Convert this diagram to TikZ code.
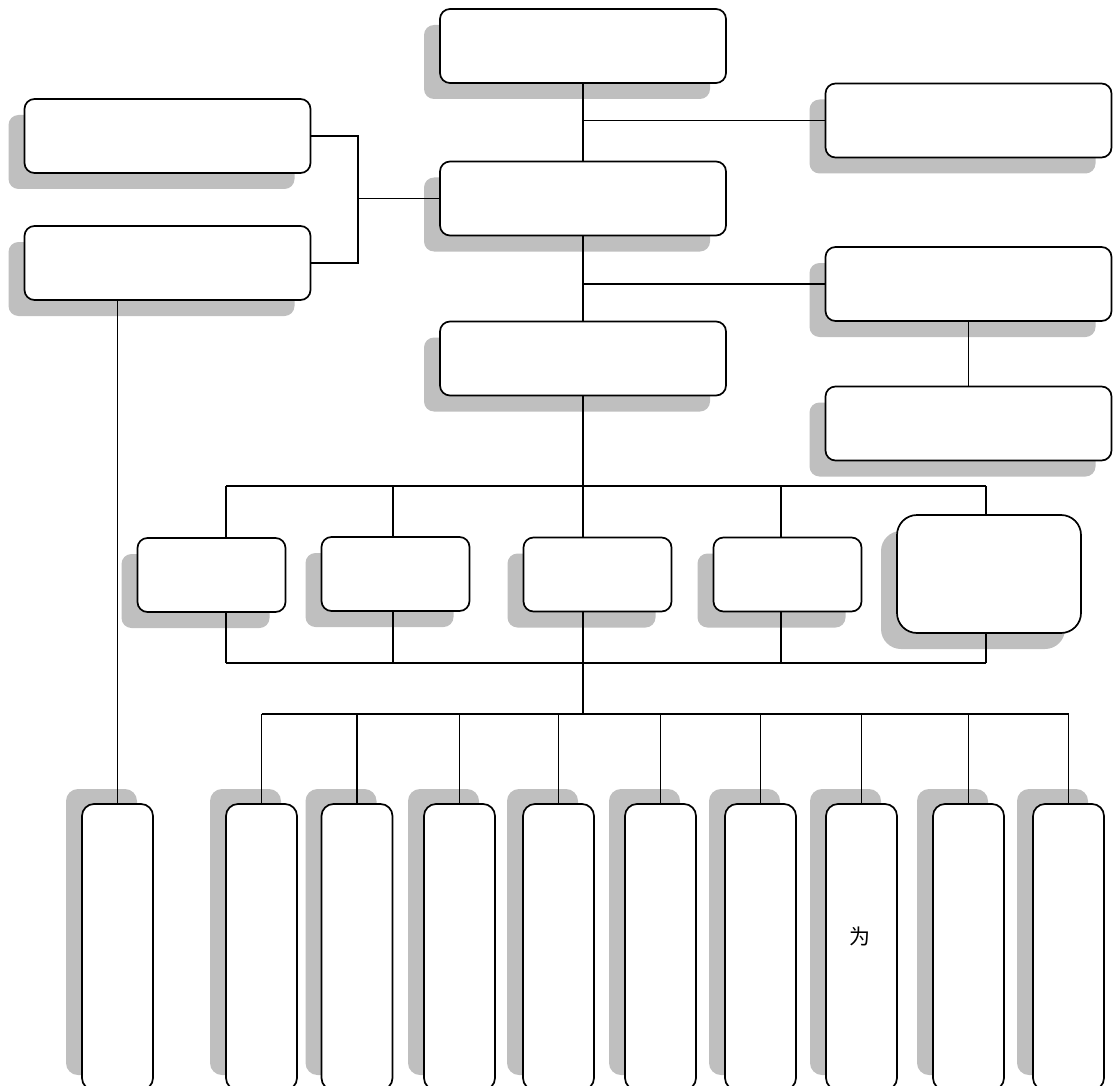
\documentclass[tikz,border=0pt]{standalone}
\usepackage{fontspec}
\newfontfamily\cjk{Noto Sans CJK SC}
\usetikzlibrary{shadows}
\definecolor{shadowgray}{HTML}{BFBFBF}
\tikzset{
  box/.style={draw=black, line width=1.7pt, fill=white, rounded corners=10pt, inner sep=0pt,
    general shadow={fill=shadowgray, draw=none, shadow xshift=-16pt, shadow yshift=-16pt}},
  tallbox/.style={draw=black, line width=1.7pt, fill=white, rounded corners=12pt, inner sep=0pt,
    minimum width=71pt, minimum height=286pt,
    general shadow={fill=shadowgray, draw=none, shadow xshift=-16pt, shadow yshift=15pt}},
  wide/.style={minimum width=286pt, minimum height=74pt},
  small/.style={minimum width=148pt, minimum height=74pt},
  link/.style={draw=black, line width=1.5pt}
}
\begin{document}
\begin{tikzpicture}[x=1pt,y=-1pt]
\useasboundingbox (0,0) rectangle (1113,1086);
\clip (0,0) rectangle (1113,1086);
% top boxes
\node[box,wide] (A) at (583,46) {};
\node[box,wide] (B) at (968.5,120.5) {};
\node[box,wide] (C1) at (167.5,136) {};
\node[box,wide] (C2) at (167.5,263) {};
\node[box,wide] (D) at (583,198.5) {};
\node[box,wide] (E) at (968.5,284) {};
\node[box,wide] (F) at (583,358.5) {};
\node[box,wide] (G) at (968.5,423.5) {};
% middle row
\node[box,small] (H1) at (211.5,575) {};
\node[box,small] (H2) at (395.5,574) {};
\node[box,small] (H3) at (597.5,574.5) {};
\node[box,small] (H4) at (787.5,574.5) {};
\node[box,rounded corners=20pt,minimum width=184pt,minimum height=118pt] (H5) at (989,574) {};
% tall boxes
\node[tallbox] (T0) at (117.5,947) {};
\node[tallbox] (T1) at (261.5,947) {};
\node[tallbox] (T2) at (357,947) {};
\node[tallbox] (T3) at (459.5,947) {};
\node[tallbox] (T4) at (558.5,947) {};
\node[tallbox] (T5) at (660.5,947) {};
\node[tallbox] (T6) at (760.5,947) {};
\node[tallbox] (T7) at (861.5,947) {};
\node[tallbox] (T8) at (968.5,947) {};
\node[tallbox] (T9) at (1068.5,947) {};
\node[font=\cjk\fontsize{21}{21}\selectfont] (L) at (860,936) {为};
% connectors top
\path[link] (A.south) -- (D.north);
\path[link] (B.west) -- (B.west -| A.south);
\coordinate (cj) at (358,198.5);
\path[link] (C1.east) -| (cj) |- (C2.east);
\path[link] (cj) -- (D.west);
\path[link] (D.south) -- (F.north);
\path[link] (E.west) -- (E.west -| D.south);
\path[link] (E.south) -- (G.north);
\path[link] (C2.south -| T0.north) -- (T0.north);
% upper bus
\coordinate (u1) at (226,486);
\coordinate (u2) at (393,486);
\coordinate (u3) at (583,486);
\coordinate (u4) at (781,486);
\coordinate (u5) at (986,486);
\path[link] (F.south) -- (u3);
\path[link] (u1) -- (u5);
\foreach \i in {1,...,5} { \path[link] (u\i) -- (u\i |- H\i.north); }
% lower bus
\coordinate (l1) at (226,663);
\coordinate (l2) at (393,663);
\coordinate (l3) at (583,663);
\coordinate (l4) at (781,663);
\coordinate (l5) at (986,663);
\path[link] (l1) -- (l5);
\foreach \i in {1,...,5} { \path[link] (l\i) -- (l\i |- H\i.south); }
% bottom bus
\coordinate (m) at (583,714);
\path[link] (l3) -- (m);
\path[link] (m -| T1.north) -- (m -| T9.north);
\foreach \i in {1,...,9} { \path[link] (m -| T\i.north) -- (T\i.north); }
\end{tikzpicture}
\end{document}
